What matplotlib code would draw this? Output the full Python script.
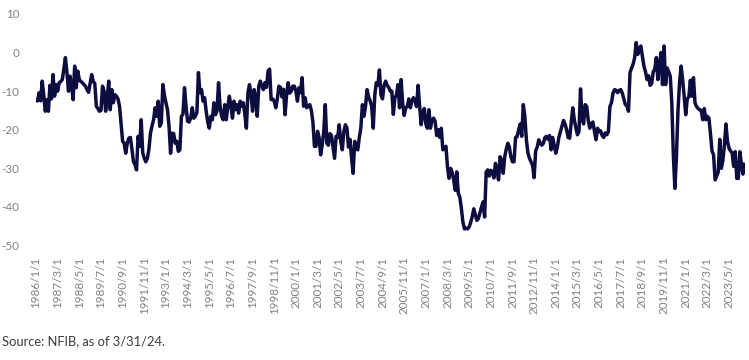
import matplotlib
matplotlib.use('Agg')
import matplotlib.pyplot as plt
import numpy as np
import pandas as pd

plt.rcParams['font.family'] = ['Lato', 'DejaVu Sans']

# Monthly net percent values, 1986/1 .. 2024/3
vals_1986_1995 = [
    -12.5, -12.5, -10.4, -12.5, -7.4, -11, -15.2, -12.2, -15.2, -8.5, -12, -5.7,
    -11.3, -8.3, -10, -7.8, -7.5, -7, -4.3, -1.3, -5.2, -10, -6.1, -8.7,
    -12.2, -3.5, -9.1, -4.8, -7, -7.5, -7.8, -8.3, -8.7, -9.6, -10.3, -8,
    -5.7, -7.5, -8, -13.9, -14.5, -15.2, -15, -8.7, -10, -15.2, -12, -7.4,
    -14.8, -9.6, -13, -10.9, -11.3, -12, -13.9, -18.3, -23, -23.5, -26.1, -23.5,
    -22.2, -22, -25, -28.3, -29, -30.4, -21.7, -24.3, -17.4, -26, -27.4, -28.3,
    -27.4, -25, -20.9, -19, -17.4, -14.3, -16.5, -12.6, -19.1, -18.3, -8.3, -11,
    -13, -14.8, -19.1, -26.1, -20.9, -21, -23.5, -23, -25.6, -25.2, -16.5, -16,
    -9.1, -14, -17.8, -18, -17, -14.3, -17, -16.5, -15.5, -5.2, -10.4, -9.6,
    -12.6, -11.7, -15.2, -18, -19.6, -16.5, -17.4, -13, -16.1, -15.2, -7.8, -14,
]
vals_1996_2005 = [
    -16.5, -17.4, -13.5, -17.4, -14, -11.3, -13.9, -17, -12.6, -14.8, -13.5, -15.7,
    -12.6, -13.9, -13, -16, -19.6, -10.4, -8.3, -10.9, -15.2, -9.6, -11.7, -16.5,
    -8.7, -7.4, -8.7, -9.6, -7.8, -9, -4.8, -4.3, -12.2, -12, -12.6, -14.3,
    -12, -8.7, -9, -11.5, -9.5, -16.1, -11, -7.8, -10.5, -10, -8.7, -8.7,
    -10, -12.6, -9.1, -10.4, -6.5, -13.9, -11.7, -14.3, -13.9, -13.5, -15, -18,
    -24.3, -24.3, -20.4, -22, -26.5, -24, -20.5, -13.5, -23.5, -24, -21, -21.5,
    -24.5, -27.4, -21.7, -22, -18.7, -23, -25.2, -20.5, -18.7, -19.5, -24.5, -22.5,
    -27.4, -31.3, -23, -25, -25.2, -22, -19.5, -13.5, -16.5, -14, -9.6, -11.5,
    -12.5, -14, -19.6, -11, -7.8, -8.5, -4.5, -11, -12, -8.5, -7.4, -8.5,
    -9, -10, -10, -16, -11.7, -11, -8.3, -14.3, -7, -13, -16.3, -14.3,
]
vals_2006_2015 = [
    -14, -12, -14.3, -12.5, -11.7, -12.5, -14, -8.5, -14, -18.7, -15.5, -14.5,
    -18.5, -19.6, -14.8, -19.6, -17.4, -17, -17.8, -21.5, -20, -22, -19.6, -25.2,
    -24.8, -24.3, -29.6, -32.6, -30, -31, -33, -35.7, -30.9, -36.5, -37.5, -40.5,
    -44, -45.7, -45.5, -45.7, -45.2, -44, -42.5, -40.5, -42, -43.5, -43, -41.5,
    -40, -38.7, -42.6, -31, -30.4, -32, -30.5, -31, -32.5, -28.7, -30.5, -33,
    -27, -28, -31.3, -27, -25, -23.5, -24.5, -27, -28.3, -28.3, -22, -21.8,
    -20, -18.5, -21.7, -13.5, -16.5, -22.6, -26, -27.4, -28.3, -29.2, -32.4, -25.5,
    -24.5, -22.6, -23.5, -24, -23.5, -22, -21.7, -22.5, -21.5, -25.2, -22, -24,
    -26.1, -24.5, -22, -20.5, -19, -17.6, -18.5, -20, -22, -22.2, -18, -14.3,
    -17.5, -19.5, -21.3, -20.5, -9.4, -17, -18.5, -13.5, -14, -17.6, -19.6, -18.5,
]
vals_2016_2024 = [
    -18, -20.4, -22.6, -19.6, -20.5, -20.3, -21.5, -22, -20.8, -21.3, -20.5, -14,
    -13, -10.5, -9.6, -9.8, -10.4, -9.8, -9.6, -10.5, -12, -13.5, -13.8, -15.2,
    -5.2, -4, -3, -1.3, 2.6, -0.5, 0.9, 1.7, -1, -3.5, -5, -7,
    -6, -8.5, -8, -5, -4.3, -1.3, -7, -3, 0, -8.3, 1.7, -8.3,
    -4, -5, -6.1, -13, -26.5, -35.2, -27, -15, -8, -3.5, -7, -11.3,
    -16.1, -12, -11.5, -7.2, -11.3, -6.5, -13, -14, -14.5, -14.8, -15, -17.4,
    -14.5, -17.4, -16.5, -17, -21, -25.5, -26.5, -33, -32, -31, -22.5, -30,
    -28, -24, -18.5, -23, -24.8, -25.5, -26, -29.5, -25.7, -32.6, -32.6, -25.7,
    -29, -31.5, -28.5,
]

start_date = '1986-01-01'
tick_every = 14
y_ticks = [-50, -40, -30, -20, -10, 0, 10]
source_note = 'Source: NFIB, as of 3/31/24.'

values = np.array(vals_1986_1995 + vals_1996_2005 + vals_2006_2015 + vals_2016_2024)
dates = pd.date_range(start_date, periods=len(values), freq='MS')
x = np.arange(len(values))
tick_pos = x[::tick_every]
tick_labels = [f"{d.year}/{d.month}/1" for d in dates[::tick_every]]

W, H = 749, 360
fig = plt.figure(figsize=(W / 100, H / 100), dpi=100)
left, right, top, bottom = 36, 744.5, 14, 245.5
ax = fig.add_axes([left / W, 1 - bottom / H, (right - left) / W, (bottom - top) / H])

ax.plot(x, values, color='#0d0d40', lw=2.5, solid_joinstyle='round', solid_capstyle='butt')

ax.set_xlim(0, len(values) - 1)
ax.set_ylim(-50, 10)
ax.set_yticks(y_ticks)
ax.set_yticklabels([str(v) for v in y_ticks])
ax.set_xticks(tick_pos)
ax.set_xticklabels(tick_labels, rotation=90, va='top', ha='center')

for s in ax.spines.values():
    s.set_visible(False)
ax.tick_params(axis='both', length=0, colors='#808080', labelsize=8.4)
ax.tick_params(axis='y', pad=12)
ax.tick_params(axis='x', pad=8)

fig.text(2 / W, 1 - 341 / H, source_note, ha='left', va='center',
         fontsize=9.3, color='#3a3a3a')

fig.savefig('out.png', dpi=100)
